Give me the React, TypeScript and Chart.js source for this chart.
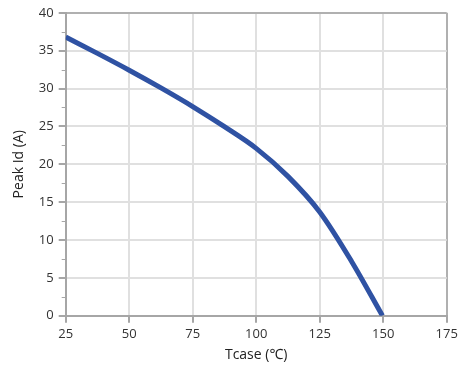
import React, { useEffect, useRef } from "react";
import { Chart, registerables } from "chart.js";

Chart.register(...registerables);

const tcase = [25, 37.5, 50, 62.5, 75, 87.5, 100, 112.5, 125, 137.5, 149.7];
const peakId = [36.8, 34.64, 32.42, 30.08, 27.62, 24.96, 22.1, 18.4, 13.7, 7.2, 0];
const yMinorTicks = [2.5, 7.5, 12.5, 17.5, 22.5, 27.5, 32.5, 37.5];

const FONT = "'Open Sans', 'Noto Sans', sans-serif";

const minorTickPlugin = {
  id: "minorTicks",
  afterDraw(chart: any) {
    const y = chart.scales.y;
    const ctx = chart.ctx;
    ctx.save();
    ctx.strokeStyle = "#a6a6a6";
    ctx.lineWidth = 1;
    const left = chart.chartArea.left;
    for (const v of yMinorTicks) {
      const py = Math.round(y.getPixelForValue(v)) + 0.5;
      ctx.beginPath();
      ctx.moveTo(left - 4, py);
      ctx.lineTo(left, py);
      ctx.stroke();
    }
    ctx.restore();
  },
};

export default function App() {
  const ref = useRef<HTMLCanvasElement>(null);
  useEffect(() => {
    const chart = new Chart(ref.current!, {
      type: "line",
      data: {
        datasets: [
          {
            data: tcase.map((x, i) => ({ x, y: peakId[i] })),
            borderColor: "#2f52a3",
            borderWidth: 5,
            pointRadius: 0,
            cubicInterpolationMode: "monotone",
            fill: false,
          },
        ],
      },
      options: {
        animation: false,
        responsive: false,
        maintainAspectRatio: false,
        layout: { padding: { top: 12.7, right: 16.3, left: 0, bottom: 0 } },
        plugins: { legend: { display: false }, tooltip: { enabled: false } },
        scales: {
          x: {
            type: "linear",
            min: 25,
            max: 175,
            ticks: { stepSize: 25, color: "#333", font: { family: FONT, size: 13 }, padding: 4, maxRotation: 0 },
            grid: {
              color: (c: any) => (c.tick && c.tick.value === 175 ? "#b0b0b0" : "#e0e0e0"),
              lineWidth: 2,
              tickColor: "#a6a6a6",
              tickLength: 7,
            },
            border: { color: "#a6a6a6", width: 2 },
            title: { display: true, text: "Tcase (℃)", color: "#222", font: { family: FONT, size: 14 }, padding: { top: 0, bottom: 4 } },
            afterFit: (s: any) => { s.height = 51.3; },
          },
          y: {
            min: 0,
            max: 40,
            ticks: { stepSize: 5, color: "#333", font: { family: FONT, size: 13 }, padding: 5 },
            grid: {
              color: (c: any) => (c.tick && c.tick.value === 40 ? "#b0b0b0" : "#e0e0e0"),
              lineWidth: 2,
              tickColor: "#a6a6a6",
              tickLength: 7,
            },
            border: { color: "#a6a6a6", width: 2 },
            title: { display: true, text: "Peak Id (A)", color: "#222", font: { family: FONT, size: 14 }, padding: { top: 11, bottom: 0 } },
            afterFit: (s: any) => { s.width = 65.7; },
          },
        },
      },
      plugins: [minorTickPlugin],
    });
    return () => chart.destroy();
  }, []);
  return (
    <div style={{ position: "fixed", left: 0, top: 0, width: 463, height: 367, background: "#fff" }}>
      <canvas ref={ref} width={463} height={367} style={{ display: "block" }} />
    </div>
  );
}
